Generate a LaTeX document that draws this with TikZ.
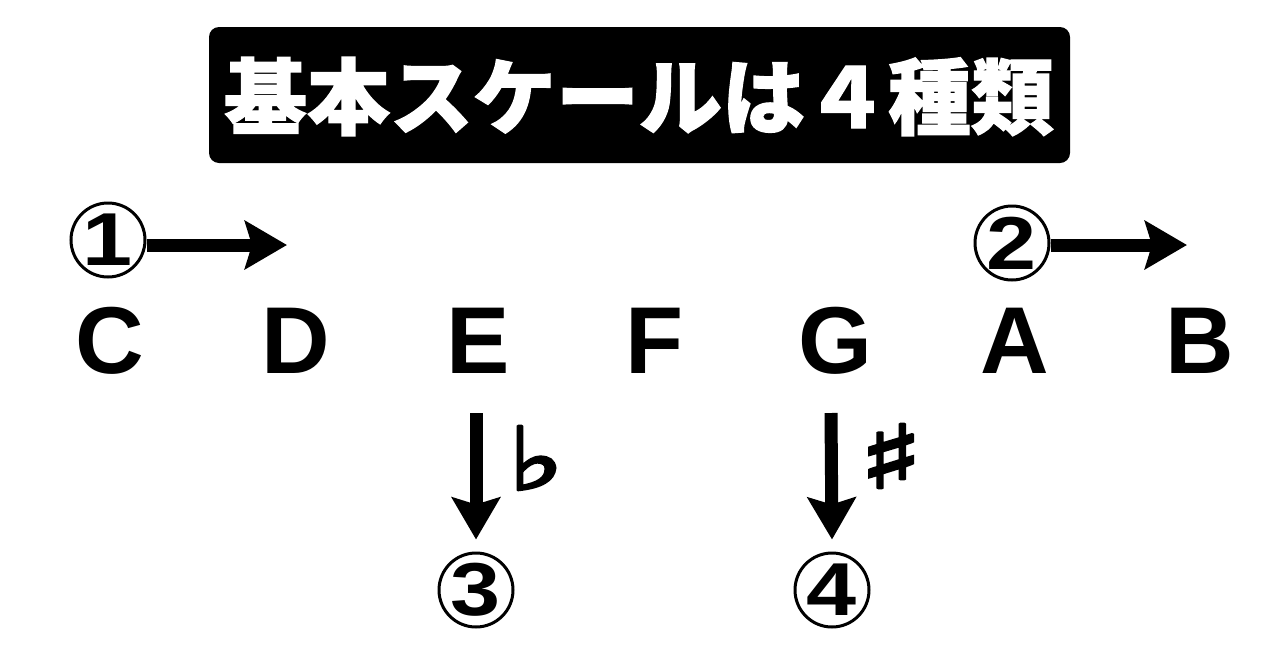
\documentclass[tikz,border=0pt]{standalone}
\usepackage{fontspec}
\setmainfont{Liberation Sans}
\newfontfamily\cjk{Noto Sans CJK JP}[BoldFeatures={FakeBold=1.5}]
\newfontfamily\digitfont{Liberation Sans Bold}[FakeStretch=1.2]
\newfontfamily\flatfont{DejaVu Sans}[FakeBold=4, FakeStretch=1.4]
\newfontfamily\sharpfont{DejaVu Sans}[FakeBold=4.5, FakeStretch=1.55]
\usetikzlibrary{arrows.meta}
\begin{document}
\begin{tikzpicture}[x=1pt,y=-1pt,
  letter/.style={font=\fontsize{95}{95}\selectfont\bfseries, inner sep=0pt, anchor=base},
  numcirc/.style={circle, draw, line width=3pt, minimum size=74pt, inner sep=0pt,
                  font=\digitfont\fontsize{75}{75}\selectfont},
  bigarrow/.style={line width=13pt, -{Stealth[length=42pt,width=48pt,inset=7pt]}},
  accidental/.style={inner sep=0pt}
  ]
\useasboundingbox (0,0) rectangle (1280,670);
\fill[white] (0,0) rectangle (1280,670);

% title
\node[fill=black, rounded corners=10pt, minimum width=861pt, minimum height=136pt,
      inner sep=0pt] (titlebox) at (639.5,95) {};
\node[text=white, font=\cjk\bfseries\fontsize{83}{83}\selectfont, anchor=base,
      inner sep=0pt] (title) at (639,128) {基本スケールは４種類};

% notes
\node[letter] (C) at (110,373) {C};
\node[letter] (D) at (296,373) {D};
\node[letter] (E) at (478,373) {E};
\node[letter] (F) at (655,373) {F};
\node[letter] (G) at (835,373) {G};
\node[letter] (A) at (1015,373) {A};
\node[letter] (B) at (1200,373) {B};

% circled numbers
\node[numcirc] (c1) at (108,240) {1};
\node[numcirc] (c2) at (1012,243) {2};
\node[numcirc] (c3) at (476,590) {3};
\node[numcirc] (c4) at (832,590) {4};

% arrows
\coordinate (t1) at (287,245);
\coordinate (t2) at (1187,245);
\coordinate (s3) at (476,413);
\coordinate (s4) at (831,413);
\draw[bigarrow] ([yshift=-5pt]c1.east) -- (t1);
\draw[bigarrow] ([yshift=-2pt]c2.east) -- (t2);
\draw[bigarrow] (s3) -- ([yshift=12pt]c3.north);
\draw[bigarrow] (s4) -- ([yshift=12pt]c4.north);

% accidentals
\node[accidental, font=\flatfont\fontsize{86}{86}\selectfont] (flat) at (536,458) {♭};
\node[accidental, font=\sharpfont\fontsize{86}{86}\selectfont] (sharp) at (891,456) {♯};
\end{tikzpicture}
\end{document}
